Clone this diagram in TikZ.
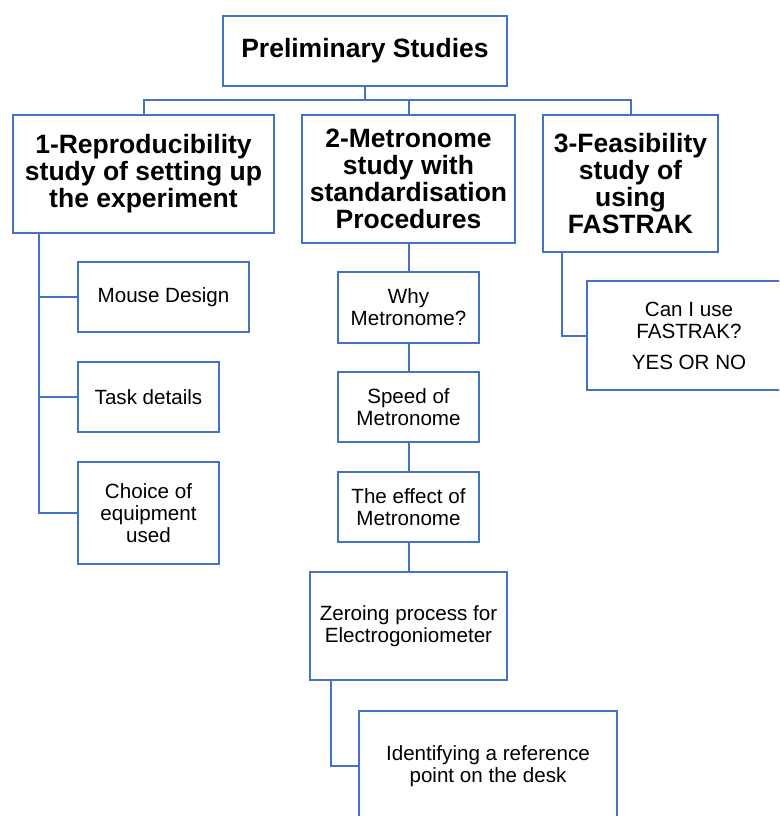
\documentclass[tikz,border=0pt]{standalone}
\usepackage{fontspec}
\setmainfont{Liberation Sans}
\usepackage{tikz}
\definecolor{boxblue}{RGB}{68,114,196}
\tikzset{
        box/.style={rectangle, draw=boxblue, line width=2pt, align=center,
                    inner sep=0pt, outer sep=0pt, text=black},
        head/.style={box, font=\fontsize{26.5}{27}\selectfont\bfseries},
        leaf/.style={box, font=\fontsize{20.6}{22}\selectfont},
        link/.style={draw=boxblue, line width=2pt}
    }

\begin{document}
\begin{tikzpicture}[x=1pt,y=-1pt]

\useasboundingbox (0,0) rectangle (779,816);
\clip (0,0) rectangle (779,816);

\draw (365,51) node(ROOT)[head,minimum width=284,minimum height=70]{Preliminary Studies};

\draw (143.5,174) node(ONE)[head,minimum width=261,minimum height=118]{1-Reproducibility\\study of setting up\\the experiment};
\draw (408.5,179) node(TWO)[head,minimum width=213,minimum height=128]{2-Metronome\\study with\\standardisation\\Procedures};
\draw (630.5,183.5) node(THREE)[head,minimum width=175,minimum height=137]{3-Feasibility\\study of\\using\\FASTRAK};

\draw (163.5,297) node(MOUSE)[leaf,minimum width=171,minimum height=70]{Mouse Design};
\draw (148.5,397) node(TASK)[leaf,minimum width=141,minimum height=70]{Task details};
\draw (148.5,513) node(CHOICE)[leaf,minimum width=141,minimum height=102]{Choice of\\equipment\\used};

\draw (408.5,307.5) node(WHY)[leaf,minimum width=141,minimum height=71]{Why\\Metronome?};
\draw (408.5,407) node(SPEED)[leaf,minimum width=141,minimum height=70]{Speed of\\Metronome};
\draw (408.5,507) node(EFFECT)[leaf,minimum width=141,minimum height=70]{The effect of\\Metronome};
\draw (408.5,626) node(ZERO)[leaf,minimum width=197,minimum height=108]{Zeroing process for\\Electrogoniometer};
\draw (488,766) node(REF)[leaf,minimum width=258,minimum height=110]{Identifying a reference\\point on the desk};

\draw (689,335.5) node(FAST)[leaf,minimum width=204,minimum height=109]{Can I use\\FASTRAK?\\[9pt]YES OR NO};

\draw[link] (ROOT.south) -- ++(0,14) -| (ONE.north);
\draw[link] (ROOT.south) -- ++(0,14) -| (TWO.north);
\draw[link] (ROOT.south) -- ++(0,14) -| (THREE.north);

\draw[link] ([xshift=-104.5pt]ONE.south) |- (MOUSE.west);
\draw[link] ([xshift=-104.5pt]ONE.south) |- (TASK.west);
\draw[link] ([xshift=-104.5pt]ONE.south) |- (CHOICE.west);

\draw[link] (TWO) -- (WHY);
\draw[link] (WHY) -- (SPEED);
\draw[link] (SPEED) -- (EFFECT);
\draw[link] (EFFECT) -- (ZERO);
\draw[link] ([xshift=-77.5pt]ZERO.south) |- (REF.west);

\draw[link] ([xshift=-68.5pt]THREE.south) |- (FAST.west);

\end{tikzpicture}
\end{document}
